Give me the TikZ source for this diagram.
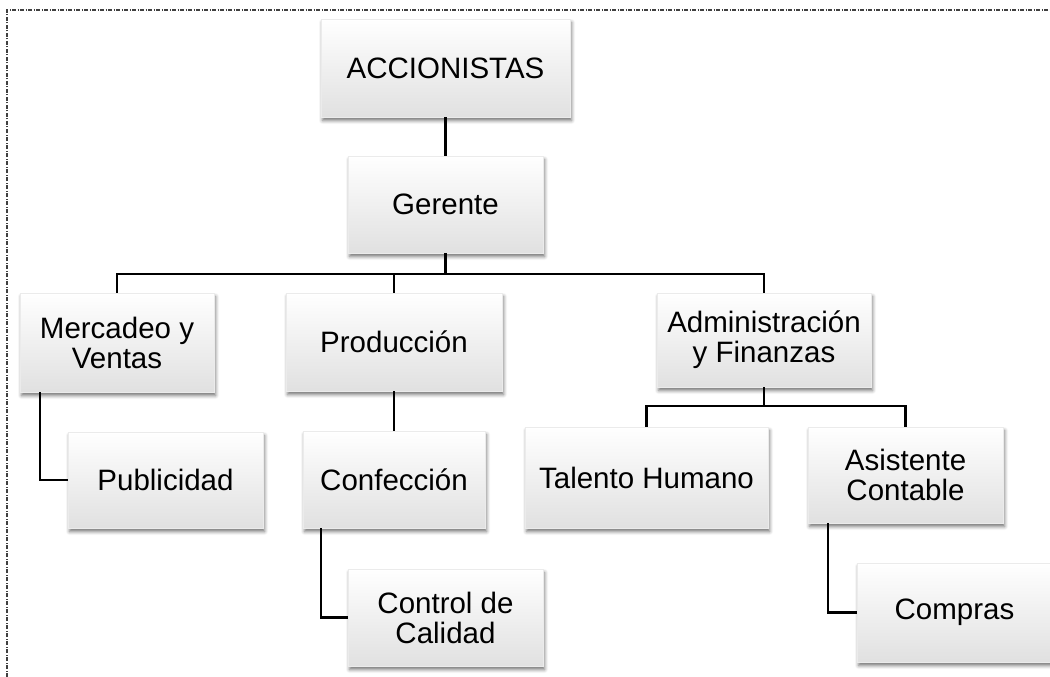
\documentclass[tikz,border=0pt]{standalone}
\usepackage{fontspec}
\setmainfont{Liberation Sans}
\usetikzlibrary{shadows.blur,calc}
\begin{document}
\begin{tikzpicture}[x=1pt,y=-1pt,
  orgbox/.style={rectangle, draw=black!8, line width=0.4pt,
    top color=white, bottom color=black!12,
    blur shadow={shadow xshift=1.5pt, shadow yshift=-3.5pt, shadow blur radius=3.5pt, shadow opacity=55},
    font=\fontsize{29.5}{30}\selectfont, align=center, inner sep=0pt},
  conn/.style={line width=2.3pt, black},
  frame/.style={line width=1.1pt, black!75, dash pattern=on 4pt off 1.5pt on 1pt off 1.5pt}]
\useasboundingbox (0,0) rectangle (1050,677);
\draw[frame] (7,677) -- (7,10) -- (1050,10);

\node[orgbox, minimum width=249pt, minimum height=98pt] (acc) at (445.5,68) {ACCIONISTAS};
\node[orgbox, minimum width=195pt, minimum height=97pt] (ger) at (445.5,204.5) {Gerente};
\node[orgbox, minimum width=194pt, minimum height=99pt] (mer) at (117,342.5) {Mercadeo y\\Ventas};
\node[orgbox, minimum width=216pt, minimum height=98pt] (pro) at (394,342) {Producción};
\node[orgbox, minimum width=214pt, minimum height=94pt] (adm) at (764,340) {Administración\\y Finanzas};
\node[orgbox, minimum width=195pt, minimum height=96pt] (pub) at (165.5,480) {Publicidad};
\node[orgbox, minimum width=182pt, minimum height=97pt] (con) at (394,479.5) {Confección};
\node[orgbox, minimum width=243pt, minimum height=101pt] (tal) at (646.5,477.5) {Talento Humano};
\node[orgbox, minimum width=195pt, minimum height=96pt] (asi) at (905.5,475) {Asistente\\Contable};
\node[orgbox, minimum width=195pt, minimum height=97pt] (ctl) at (445.5,617.5) {Control de\\Calidad};
\node[orgbox, minimum width=195pt, minimum height=99pt] (com) at (954.5,612.5) {Compras};

\coordinate (b1) at (445.5,274);
\coordinate (b2) at (764,406);

\draw[conn] (acc.south) -- (ger.north);
\draw[conn] (ger.south) -- (b1);
\draw[conn] (mer.north) -- (mer.north |- b1) -- (adm.north |- b1) -- (adm.north);
\draw[conn] (pro.north) -- (pro.north |- b1);
\draw[conn] (adm.south) -- (b2);
\draw[conn] (tal.north) -- (tal.north |- b2) -- (asi.north |- b2) -- (asi.north);
\draw[conn] ($(mer.south west)+(20,0)$) |- (pub.west);
\draw[conn] (pro.south) -- (con.north);
\draw[conn] ($(con.south west)+(18,0)$) |- (ctl.west);
\draw[conn] ($(asi.south west)+(20,0)$) |- (com.west);
\end{tikzpicture}
\end{document}
